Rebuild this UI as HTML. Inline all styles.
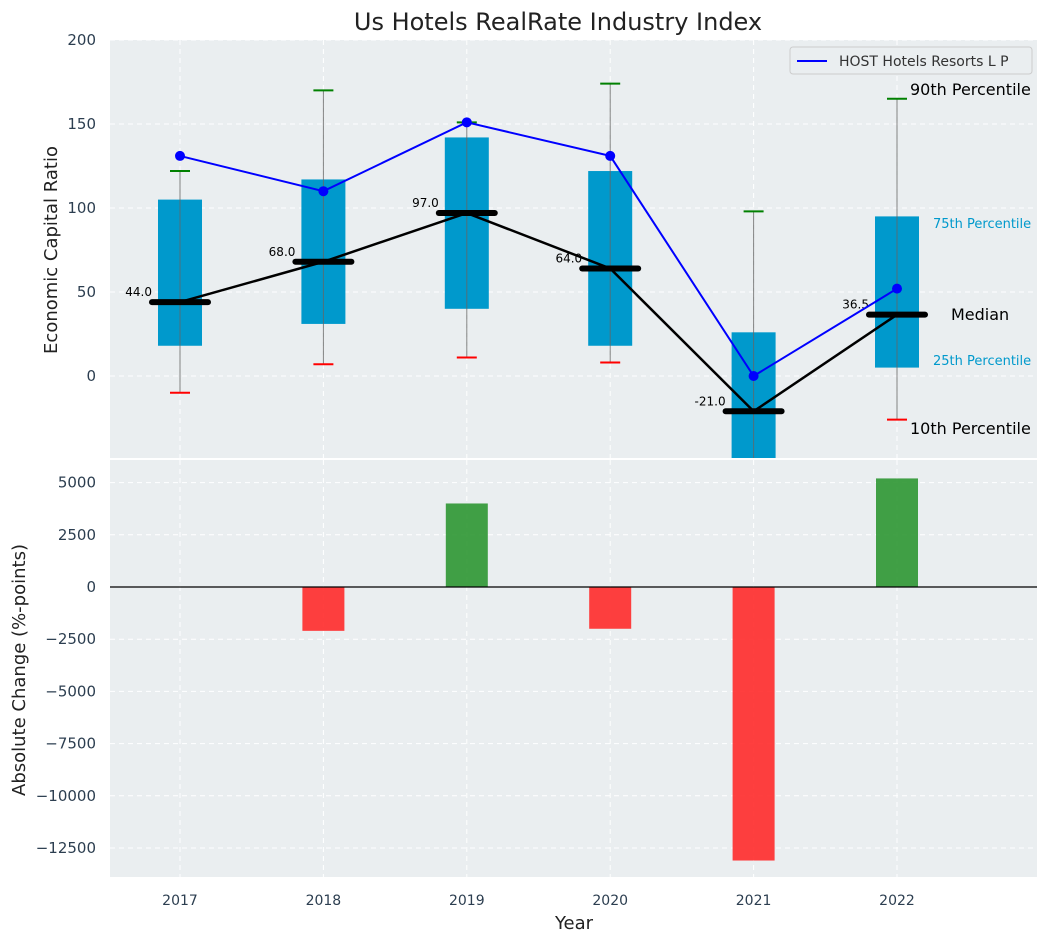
<!DOCTYPE html>
<html><head><meta charset="utf-8"><style>
body{margin:0;background:#fff;}
svg{display:block;font-family:"DejaVu Sans","Liberation Sans",sans-serif;}
</style></head><body>
<svg id="chart" width="1048" height="942" viewBox="0 0 1048 942">
<text x="558" y="30" font-size="24" text-anchor="middle" fill="#222">Us Hotels RealRate Industry Index</text>
<rect x="110" y="40" width="927" height="418" fill="#eaeef0"/>
<rect x="110" y="460" width="927" height="417" fill="#eaeef0"/>
<g id="topg"></g><g id="botg"></g>
<text x="57" y="250" font-size="18" fill="#222" text-anchor="middle" transform="rotate(-90 57 250)">Economic Capital Ratio</text>
<text x="25" y="670" font-size="18" fill="#222" text-anchor="middle" transform="rotate(-90 25 670)">Absolute Change (%-points)</text>
<text x="574" y="929" font-size="18" fill="#222" text-anchor="middle">Year</text>
<g>
<rect x="790" y="47" width="242" height="27" rx="3" fill="#eaeef0" stroke="#ccc"/>
<line x1="797" y1="61" x2="827" y2="61" stroke="#0000ff" stroke-width="2"/>
<text x="839" y="66" font-size="14" fill="#333">HOST Hotels Resorts L P</text>
</g>
<text x="910" y="95" font-size="16" fill="#000">90th Percentile</text>
<text x="933" y="228" font-size="13" fill="#0099cc">75th Percentile</text>
<text x="951" y="320" font-size="16" fill="#000">Median</text>
<text x="933" y="365" font-size="13" fill="#0099cc">25th Percentile</text>
<text x="910" y="434" font-size="16" fill="#000">10th Percentile</text>
</svg>
<script>
const years=["2017","2018","2019","2020","2021","2022"];
const p10=[-10,7,11,8,-60,-26];
const p25=[18,31,40,18,-60,5];
const p75=[105,117,142,122,26,95];
const p90=[122,170,151,174,98,165];
const medians=[44,68,97,64,-21,36.5];
const host=[131,110,151,131,0,52];
const changes=[0,-2100,4000,-2000,-13100,5200];
const topTicks=[0,50,100,150,200];
const botTicks=[-12500,-10000,-7500,-5000,-2500,0,2500,5000];
const NS="http://www.w3.org/2000/svg";
const xS=i=>180+i*143.4;
const yT=v=>376-v*1.68;
const yB=v=>587-v*0.02088;
const fmt=v=>String(v).replace('-','\u2212');
function mk(p,t,a){const e=document.createElementNS(NS,t);for(const k in a)e.setAttribute(k,a[k]);p.appendChild(e);return e;}
const topG=document.getElementById('topg'),botG=document.getElementById('botg');
topTicks.forEach(v=>{
 const y=yT(v);
 const g=mk(topG,'line',{x1:110,x2:1037,y1:y,y2:y,stroke:'#fff','stroke-dasharray':'5,4','stroke-width':1});
 
 const t=mk(topG,'text',{x:96,y:y+5,'font-size':15,fill:'#2c3e50','text-anchor':'end'});t.textContent=fmt(v);
 
});
botTicks.forEach(v=>{
 const y=yB(v);
 const g=mk(botG,'line',{x1:110,x2:1037,y1:y,y2:y,stroke:'#fff','stroke-dasharray':'5,4','stroke-width':1});
 
 const t=mk(botG,'text',{x:96,y:y+5,'font-size':15,fill:'#2c3e50','text-anchor':'end'});t.textContent=fmt(v);
 
});
years.forEach((yr,i)=>{
 const x=xS(i);
 mk(topG,'line',{x1:x,x2:x,y1:40,y2:458,stroke:'#fff','stroke-dasharray':'5,4'});
 mk(botG,'line',{x1:x,x2:x,y1:460,y2:877,stroke:'#fff','stroke-dasharray':'5,4'});
 const t=mk(botG,'text',{x:x,y:905,'font-size':14,fill:'#2c3e50','text-anchor':'middle'});t.textContent=yr;
 
});
const cl=mk(topG,'clipPath',{id:'tc'});mk(cl,'rect',{x:110,y:40,width:927,height:418});
const tg=mk(topG,'g',{'clip-path':'url(#tc)'});
years.forEach((yr,i)=>{
 const x=xS(i);
 const b=mk(tg,'rect',{x:x-22,y:yT(p75[i]),width:44,height:yT(p25[i])-yT(p75[i]),fill:'#0099cc'});
 
 mk(tg,'line',{x1:x,x2:x,y1:yT(p90[i]),y2:yT(p10[i]),stroke:'#666','stroke-width':1,opacity:0.8});
 mk(tg,'line',{x1:x-10,x2:x+10,y1:yT(p90[i]),y2:yT(p90[i]),stroke:'green','stroke-width':2});
 mk(tg,'line',{x1:x-10,x2:x+10,y1:yT(p10[i]),y2:yT(p10[i]),stroke:'red','stroke-width':2});
});
let mp='',hp='';
years.forEach((yr,i)=>{mp+=(i?'L':'M')+xS(i)+','+yT(medians[i]);hp+=(i?'L':'M')+xS(i)+','+yT(host[i]);});
const ml=mk(tg,'path',{d:mp,stroke:'#000','stroke-width':2.5,fill:'none'});

years.forEach((yr,i)=>{
 const x=xS(i),y=yT(medians[i]);
 const m=mk(tg,'line',{x1:x-28,x2:x+28,y1:y,y2:y,stroke:'#000','stroke-width':6,'stroke-linecap':'round'});
 
 const t=mk(tg,'text',{x:x-28,y:y-6,'font-size':12,fill:'#000','text-anchor':'end'});t.textContent=medians[i].toFixed(1);
 
});
const hl=mk(tg,'path',{d:hp,stroke:'#0000ff','stroke-width':2,fill:'none'});

years.forEach((yr,i)=>{
 const c=mk(tg,'circle',{cx:xS(i),cy:yT(host[i]),r:5,fill:'#0000ff'});
 
});
years.forEach((yr,i)=>{
 const v=changes[i];if(!v)return;
 const y0=yB(0),y1=yB(v);
 const r=mk(botG,'rect',{x:xS(i)-21,y:Math.min(y0,y1),width:42,height:Math.abs(y1-y0),fill:v>0?'#2e9632':'#ff2a2a',opacity:0.9});
 
});
const z=mk(botG,'line',{x1:110,x2:1037,y1:yB(0),y2:yB(0),stroke:'#000','stroke-width':1.2});

</script>
</body></html>
